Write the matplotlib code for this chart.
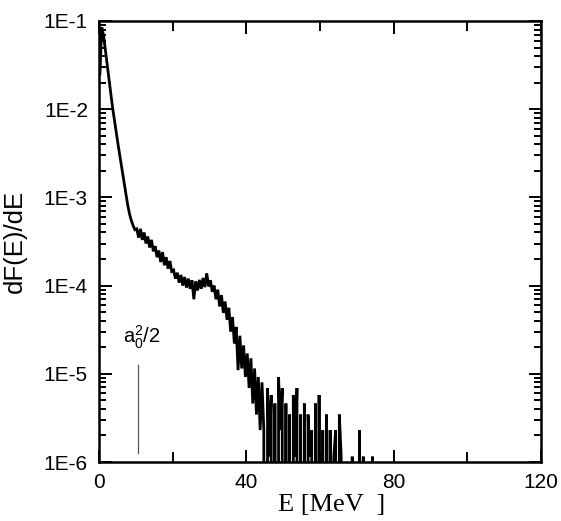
import numpy as np
import matplotlib
matplotlib.use("Agg")
import matplotlib.pyplot as plt
from matplotlib.ticker import FixedLocator, FuncFormatter, LogLocator, NullFormatter

plt.rcParams['font.family'] = ['Liberation Sans', 'DejaVu Sans']
plt.rcParams['mathtext.fontset'] = 'custom'
plt.rcParams['mathtext.rm'] = 'Liberation Sans'
plt.rcParams['mathtext.it'] = 'Liberation Sans'

# bin width 0.5 MeV, centres 0.25 ... 74.75
bin_width = 0.5
energy = np.arange(0.25, 75.0, bin_width)

spectrum = [
    # 0.25 - 4.75
    2.5e-2, 8.5e-2, 6.8e-2, 4.6e-2, 3.1e-2, 2.1e-2, 1.45e-2, 1.0e-2, 7.2e-3, 5.2e-3,
    # 5.25 - 9.75
    3.8e-3, 2.8e-3, 2.05e-3, 1.5e-3, 1.1e-3, 8.4e-4, 6.6e-4, 5.5e-4, 4.8e-4, 4.3e-4,
    # 10.25 - 14.75
    4.4e-4, 3.5e-4, 4.4e-4, 3.3e-4, 4.0e-4, 3.0e-4, 3.6e-4, 2.7e-4, 3.3e-4, 2.45e-4,
    # 15.25 - 19.75
    2.8e-4, 2.1e-4, 2.5e-4, 1.85e-4, 2.4e-4, 1.7e-4, 2.1e-4, 1.55e-4, 1.9e-4, 1.45e-4,
    # 20.25 - 24.75
    1.5e-4, 1.2e-4, 1.4e-4, 1.08e-4, 1.32e-4, 1.0e-4, 1.25e-4, 9.5e-5, 1.2e-4, 9.2e-5,
    # 25.25 - 29.75
    1.15e-4, 7.0e-5, 1.12e-4, 8.8e-5, 1.16e-4, 9.2e-5, 1.22e-4, 9.6e-5, 1.38e-4, 9.8e-5,
    # 30.25 - 34.75
    1.15e-4, 8.5e-5, 1.0e-4, 7.0e-5, 9.0e-5, 5.8e-5, 7.8e-5, 4.9e-5, 6.6e-5, 4.1e-5,
    # 35.25 - 39.75
    5.6e-5, 3.0e-5, 4.4e-5, 2.2e-5, 3.4e-5, 1.1e-5, 2.7e-5, 1.15e-5, 2.1e-5, 9.2e-6,
    # 40.25 - 44.75
    1.7e-5, 6.9e-6, 1.5e-5, 4.6e-6, 1.15e-5, 3.45e-6, 9.2e-6, 2.3e-6, 8.0e-6, 2.3e-6,
    # 45.25 - 49.75
    0.0, 6.9e-6, 1.15e-6, 5.75e-6, 0.0, 4.6e-6, 0.0, 9.2e-6, 2.3e-6, 6.9e-6,
    # 50.25 - 54.75
    0.0, 4.6e-6, 0.0, 3.45e-6, 0.0, 5.75e-6, 1.15e-6, 6.9e-6, 0.0, 3.45e-6,
    # 55.25 - 59.75
    0.0, 4.6e-6, 0.0, 3.45e-6, 1.15e-6, 2.3e-6, 0.0, 4.6e-6, 0.0, 5.75e-6,
    # 60.25 - 64.75
    0.0, 2.3e-6, 0.0, 3.45e-6, 0.0, 2.3e-6, 0.0, 1.15e-6, 2.3e-6, 0.0,
    # 65.25 - 69.75
    3.45e-6, 1.15e-6, 0.0, 0.0, 0.0, 0.0, 0.0, 1.15e-6, 0.0, 0.0,
    # 70.25 - 74.75
    0.0, 2.3e-6, 0.0, 1.15e-6, 0.0, 0.0, 0.0, 0.0, 1.15e-6, 0.0,
]

marker_energy = 10.6
marker_range = [1.25e-6, 1.26e-5]
marker_label = r"a$_0^2$/2"

x_major = [0, 40, 80, 120]
x_minor = [20, 60, 100]
y_major = [1e-6, 1e-5, 1e-4, 1e-3, 1e-2, 1e-1]

fig = plt.figure(figsize=(5.61, 5.21), dpi=100)
ax = fig.add_axes([99/561, 1 - 462/521, 442/561, 441/521])

ax.plot(energy, spectrum, color='black', lw=2.0, solid_joinstyle='miter')
ax.plot([marker_energy, marker_energy], marker_range, color='#555555', lw=0.9)
ax.text(6.5, 2.23e-5, marker_label, fontsize=14.5, ha='left', va='baseline')

ax.set_yscale('log', nonpositive='clip')
ax.set_xlim(0, 120)
ax.set_ylim(1e-6, 1e-1)

ax.xaxis.set_major_locator(FixedLocator(x_major))
ax.xaxis.set_minor_locator(FixedLocator(x_minor))
ax.yaxis.set_major_locator(FixedLocator(y_major))
ax.yaxis.set_minor_locator(LogLocator(base=10, subs=np.arange(2, 10)))
ax.yaxis.set_minor_formatter(NullFormatter())
ax.yaxis.set_major_formatter(FuncFormatter(lambda v, p: "1E%d" % int(round(np.log10(v)))))

ax.tick_params(which='both', direction='in', top=True, right=True, width=1.4)
ax.tick_params(which='major', length=9, labelsize=15, pad=8)
ax.tick_params(which='minor', length=5)
ax.tick_params(axis='x', which='minor', length=7)
for s in ax.spines.values():
    s.set_linewidth(1.8)

ax.set_ylabel("dF(E)/dE", fontsize=18.5)
ax.yaxis.set_label_coords(-0.163, 0.5)
ax.set_xlabel("E [MeV  ]", fontsize=19, family=['Liberation Serif'])
ax.xaxis.set_label_coords(0.527, -0.072)

fig.savefig("out.png", dpi=100)
